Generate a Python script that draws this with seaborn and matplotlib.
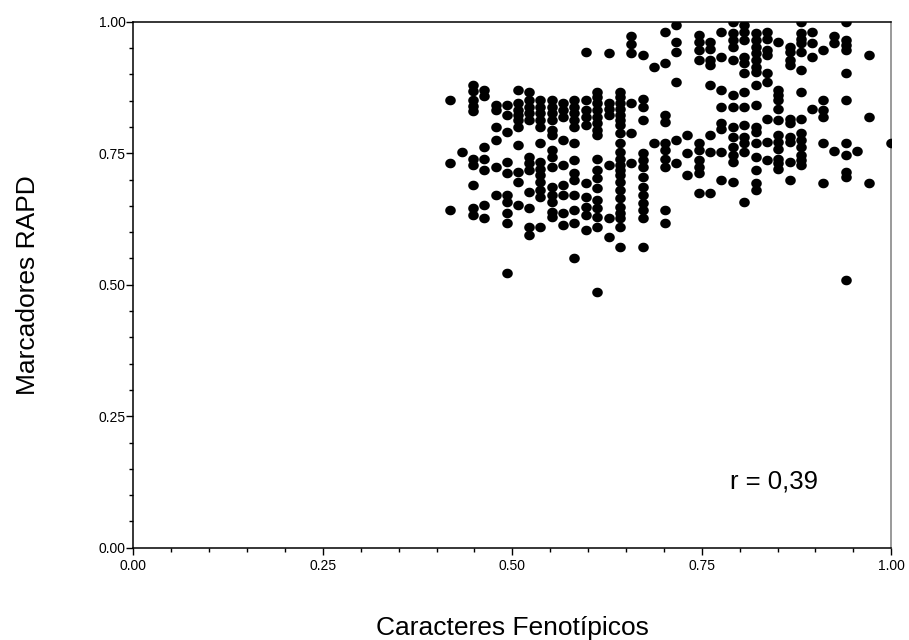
import matplotlib
matplotlib.use("Agg")
import matplotlib.pyplot as plt
import seaborn as sns
import pandas as pd
import numpy as np
from matplotlib.path import Path
from matplotlib.ticker import MultipleLocator, FormatStrFormatter

# ---- data: phenotypic similarity levels (x) and RAPD similarity values (y) per level ----
x_levels = [0.418, 0.433, 0.448, 0.463, 0.478, 0.493, 0.507, 0.522, 0.537, 0.552,
            0.567, 0.582, 0.597, 0.612, 0.627, 0.642, 0.657, 0.672, 0.687, 0.701,
            0.716, 0.731, 0.746, 0.761, 0.776, 0.791, 0.806, 0.821, 0.836, 0.851,
            0.866, 0.881, 0.896, 0.910, 0.925, 0.940, 0.955, 0.970, 1.000]

r_0418 = [0.851, 0.731, 0.642]
r_0433 = [0.753]
r_0448 = [0.879, 0.868, 0.851, 0.840, 0.830, 0.740, 0.728, 0.690, 0.645, 0.633]
r_0463 = [0.870, 0.859, 0.762, 0.740, 0.718, 0.651, 0.626]
r_0478 = [0.842, 0.832, 0.800, 0.775, 0.724, 0.670]
r_0493 = [0.842, 0.822, 0.791, 0.734, 0.712, 0.670, 0.658, 0.636, 0.617, 0.522]
r_0507 = [0.870, 0.845, 0.832, 0.823, 0.813, 0.800, 0.766, 0.715, 0.696, 0.651]
r_0522 = [0.867, 0.851, 0.838, 0.826, 0.813, 0.743, 0.731, 0.718, 0.677, 0.645, 0.610, 0.595]
r_0537 = [0.851, 0.838, 0.826, 0.813, 0.800, 0.769, 0.734, 0.721, 0.708, 0.696, 0.680, 0.667, 0.610]
r_0552 = [0.851, 0.838, 0.826, 0.813, 0.794, 0.785, 0.756, 0.743, 0.724, 0.686, 0.670, 0.658, 0.639, 0.629]
r_0567 = [0.845, 0.832, 0.819, 0.775, 0.728, 0.690, 0.670, 0.636, 0.614]
r_0582 = [0.851, 0.838, 0.826, 0.813, 0.800, 0.769, 0.737, 0.712, 0.699, 0.670, 0.642, 0.617, 0.550]
r_0597 = [0.943, 0.851, 0.832, 0.819, 0.804, 0.693, 0.667, 0.648, 0.633, 0.604]
r_0612 = [0.867, 0.857, 0.845, 0.832, 0.819, 0.807, 0.794, 0.785, 0.740, 0.718, 0.702,
          0.684, 0.661, 0.645, 0.629, 0.610, 0.487]
r_0627 = [0.941, 0.845, 0.835, 0.823, 0.728, 0.626, 0.591]
r_0642 = [0.867, 0.857, 0.845, 0.835, 0.823, 0.813, 0.804, 0.788, 0.769, 0.753, 0.740,
          0.728, 0.718, 0.708, 0.696, 0.680, 0.664, 0.648, 0.636, 0.626, 0.610, 0.572]
r_0657 = [0.973, 0.957, 0.941, 0.845, 0.788, 0.731]
r_0672 = [0.937, 0.854, 0.838, 0.813, 0.750, 0.737, 0.724, 0.705, 0.686, 0.670, 0.655,
          0.642, 0.626, 0.572]
r_0687 = [0.914, 0.769]
r_0701 = [0.981, 0.921, 0.823, 0.810, 0.769, 0.756, 0.740, 0.724, 0.642, 0.617]
r_0716 = [0.994, 0.962, 0.943, 0.886, 0.775, 0.731]
r_0731 = [0.785, 0.750, 0.708]
r_0746 = [0.975, 0.962, 0.946, 0.927, 0.769, 0.756, 0.737, 0.724, 0.712, 0.674]
r_0761 = [0.962, 0.949, 0.927, 0.918, 0.880, 0.785, 0.753, 0.674]
r_0776 = [0.981, 0.933, 0.870, 0.838, 0.807, 0.797, 0.753, 0.699]
r_0791 = [1.000, 0.978, 0.965, 0.952, 0.927, 0.861, 0.838, 0.800, 0.781, 0.762, 0.747,
          0.734, 0.696]
r_0806 = [0.994, 0.981, 0.965, 0.933, 0.921, 0.902, 0.867, 0.838, 0.804, 0.781, 0.769,
          0.753, 0.658]
r_0821 = [0.978, 0.965, 0.952, 0.940, 0.927, 0.914, 0.905, 0.880, 0.842, 0.800, 0.791,
          0.770, 0.743, 0.718, 0.693, 0.680]
r_0836 = [0.981, 0.968, 0.946, 0.937, 0.902, 0.886, 0.816, 0.772, 0.737]
r_0851 = [0.962, 0.870, 0.861, 0.851, 0.835, 0.813, 0.785, 0.772, 0.759, 0.740, 0.731, 0.721]
r_0866 = [0.952, 0.943, 0.927, 0.918, 0.816, 0.807, 0.781, 0.772, 0.734, 0.699]
r_0881 = [1.000, 0.978, 0.968, 0.959, 0.943, 0.908, 0.867, 0.816, 0.788, 0.775, 0.762,
          0.747, 0.737, 0.728]
r_0896 = [0.981, 0.959, 0.933, 0.835]
r_0910 = [0.946, 0.851, 0.832, 0.819, 0.770, 0.693]
r_0925 = [0.972, 0.959, 0.755]
r_0940 = [1.000, 0.965, 0.956, 0.946, 0.902, 0.851, 0.770, 0.747, 0.715, 0.705, 0.509]
r_0955 = [0.755]
r_0970 = [0.937, 0.819, 0.693]
r_1000 = [0.770]

rapd_columns = [r_0418, r_0433, r_0448, r_0463, r_0478, r_0493, r_0507, r_0522, r_0537,
                r_0552, r_0567, r_0582, r_0597, r_0612, r_0627, r_0642, r_0657, r_0672,
                r_0687, r_0701, r_0716, r_0731, r_0746, r_0761, r_0776, r_0791, r_0806,
                r_0821, r_0836, r_0851, r_0866, r_0881, r_0896, r_0910, r_0925, r_0940,
                r_0955, r_0970, r_1000]

tick_values = [0.0, 0.25, 0.50, 0.75, 1.0]
x_title = "Caracteres Fenotípicos"
y_title = "Marcadores RAPD"
r_text = "r = 0,39"

rows = []
for xv, ys in zip(x_levels, rapd_columns):
    for yv in ys:
        rows.append((xv, yv))
df = pd.DataFrame(rows, columns=["fenotipicos", "rapd"])

# slightly wide elliptical dot, like the original marker
theta = np.linspace(0, 2 * np.pi, 60)
ellipse = Path(np.column_stack([1.1 * np.cos(theta), np.sin(theta)]), closed=True)

# ---- style ----
sns.set_theme(style="ticks", rc={
    "axes.edgecolor": "black", "text.color": "black", "axes.labelcolor": "black",
    "xtick.color": "black", "ytick.color": "black",
})
plt.rcParams["font.family"] = ["Liberation Sans", "DejaVu Sans"]

fig, ax = plt.subplots(figsize=(9.09, 6.40), dpi=100)
fig.subplots_adjust(left=0.1467, right=0.9805, top=0.966, bottom=0.1442)

sns.scatterplot(data=df, x="fenotipicos", y="rapd", color="black", s=58,
                marker=ellipse, linewidth=0, ax=ax, legend=False, zorder=3)

ax.set_xlim(0, 1)
ax.set_ylim(0, 1)
ax.set_xticks(tick_values)
ax.set_yticks(tick_values)
ax.xaxis.set_minor_locator(MultipleLocator(0.05))
ax.yaxis.set_minor_locator(MultipleLocator(0.05))
ax.xaxis.set_major_formatter(FormatStrFormatter("%.2f"))
ax.yaxis.set_major_formatter(FormatStrFormatter("%.2f"))

ax.tick_params(which="major", direction="out", length=5, width=1, labelsize=10)
ax.tick_params(which="minor", direction="out", length=3, width=1)
ax.tick_params(axis="y", which="major", pad=0.5)
ax.tick_params(axis="x", which="major", pad=3)

for side in ["left", "bottom", "top"]:
    ax.spines[side].set_color("black")
    ax.spines[side].set_linewidth(1.1)
ax.spines["right"].set_color("#7f7f7f")
ax.spines["right"].set_linewidth(1.1)

ax.set_xlabel(x_title, fontsize=19, labelpad=31)
ax.set_ylabel(y_title, fontsize=19, labelpad=42)

ax.text(0.787, 0.113, r_text, fontsize=18.5, ha="left", va="baseline")

fig.savefig("out.png", dpi=100)
